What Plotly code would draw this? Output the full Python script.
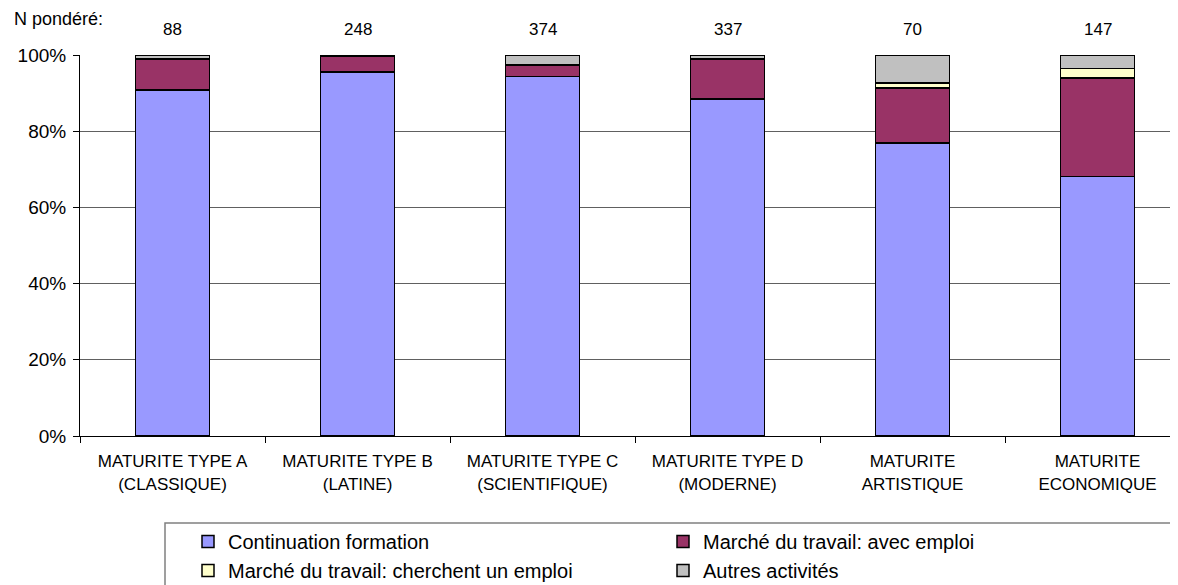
import plotly.graph_objects as go

categories = ["MATURITE TYPE A<br>(CLASSIQUE)", "MATURITE TYPE B<br>(LATINE)",
              "MATURITE TYPE C<br>(SCIENTIFIQUE)", "MATURITE TYPE D<br>(MODERNE)",
              "MATURITE<br>ARTISTIQUE", "MATURITE<br>ECONOMIQUE"]
n_pondere = [88, 248, 374, 337, 70, 147]
continuation = [90.8, 95.5, 94.3, 88.4, 76.9, 68.1]
avec_emploi = [8.1, 4.1, 3.1, 10.5, 14.4, 25.8]
cherchent = [None, None, None, None, 1.4, 2.6]
autres = [1.1, 0.4, 2.6, 1.1, 7.3, 3.5]

series = [
    ("Continuation formation", continuation, "#9999FF"),
    ("Marché du travail: avec emploi", avec_emploi, "#993366"),
    ("Marché du travail: cherchent un emploi", cherchent, "#FFFFCC"),
    ("Autres activités", autres, "#C0C0C0"),
]

FONT = "Liberation Sans, Arial, sans-serif"
OFF = 8  # page body margin
W, H = 1178, 585
L, T, PH = 80 - OFF, 55 - OFF, 381
PW = W - L
CAT = 185.0
xmax = -0.5 + PW / CAT


def px(x):  # screen x -> paper
    return (x - OFF - L) / PW


def py(y):  # screen y -> paper
    return (T + PH - (y - OFF)) / PH


fig = go.Figure()
for name, vals, col in series:
    fig.add_trace(go.Bar(
        x=categories, y=vals, name=name, width=0.4,
        marker=dict(color=col, line=dict(color="black", width=1.5)),
    ))

for c, n in zip(categories, n_pondere):
    fig.add_annotation(x=c, y=1.0, yref="paper", yshift=14, yanchor="bottom",
                       text=str(n), showarrow=False,
                       font=dict(size=17, color="black", family=FONT))

fig.add_annotation(x=px(12), xref="paper", xanchor="left", y=1.0, yref="paper",
                   yshift=24, yanchor="bottom", text="N pondéré:", showarrow=False,
                   font=dict(size=18, color="black", family=FONT))

# legend frame
fig.add_shape(type="rect", xref="paper", yref="paper",
              x0=px(165), x1=px(1220), y0=py(523), y1=py(640),
              line=dict(color="#808080", width=1.5), fillcolor="rgba(0,0,0,0)")

fig.update_layout(
    width=W, height=H,
    barmode="stack",
    plot_bgcolor="white", paper_bgcolor="white",
    margin=dict(l=L, r=0, t=T, b=H - T - PH, autoexpand=False),
    font=dict(family=FONT, size=17, color="black"),
    showlegend=True,
    legend=dict(orientation="h", x=px(188), xanchor="left",
                y=py(522), yanchor="top",
                entrywidth=430, borderwidth=0, bgcolor="rgba(0,0,0,0)",
                font=dict(size=20, family=FONT), traceorder="normal"),
    xaxis=dict(type="category", range=[-0.5, xmax], showline=True, linecolor="black",
               linewidth=1, ticks="outside", tickson="boundaries", ticklen=6,
               tickcolor="black", tickfont=dict(size=17), ticklabelstandoff=10),
    yaxis=dict(range=[0, 100], tickvals=[0, 20, 40, 60, 80, 100],
               ticktext=["0%", "20%", "40%", "60%", "80%", "100%"],
               showline=True, linecolor="black", linewidth=1, ticks="outside",
               ticklen=6, tickcolor="black", showgrid=True, gridcolor="#606060",
               gridwidth=1, zeroline=False, tickfont=dict(size=19),
               ticklabelstandoff=3),
)
fig.write_html("out.html")
